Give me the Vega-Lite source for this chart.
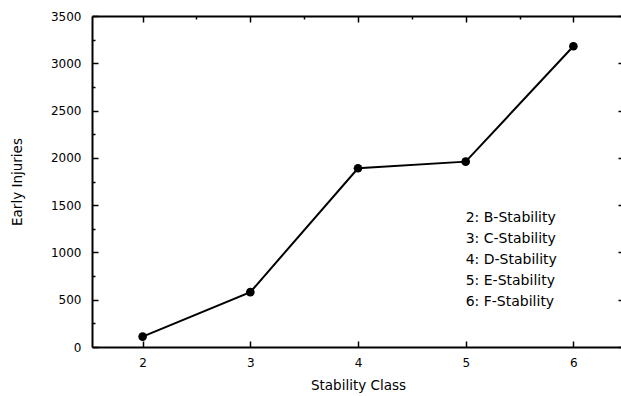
{
  "$schema": "https://vega.github.io/schema/vega-lite/v6.json",
  "width": 532,
  "height": 331,
  "autosize": {"type": "none"},
  "padding": {"left": 92, "top": 16, "right": 0, "bottom": 49},
  "background": "white",
  "config": {
    "view": {"stroke": null},
    "font": "DejaVu Sans",
    "axis": {
      "domainColor": "black",
      "domainWidth": 2,
      "tickColor": "black",
      "tickWidth": 1.5,
      "grid": false,
      "labelFont": "DejaVu Sans",
      "labelFontSize": 12,
      "labelColor": "black",
      "titleFont": "DejaVu Sans",
      "titleFontSize": 13.5,
      "titleFontWeight": "normal",
      "titleColor": "black"
    }
  },
  "data": {
    "values": [
      {"cls": 2, "injuries": 110},
      {"cls": 3, "injuries": 580},
      {"cls": 4, "injuries": 1890},
      {"cls": 5, "injuries": 1960},
      {"cls": 6, "injuries": 3180}
    ]
  },
  "resolve": {"axis": {"x": "independent", "y": "independent"}},
  "layer": [
    {
      "mark": {"type": "line", "color": "black", "strokeWidth": 2},
      "encoding": {
        "x": {
          "field": "cls", "type": "quantitative",
          "scale": {"domain": [1.53, 6.47], "nice": false, "zero": false},
          "axis": {
            "orient": "bottom",
            "title": "Stability Class",
            "values": [2, 2.5, 3, 3.5, 4, 4.5, 5, 5.5, 6],
            "format": "d",
            "tickSize": {"condition": {"test": "datum.value % 1 !== 0", "value": -3}, "value": -6},
            "labelExpr": "datum.value % 1 === 0 ? format(datum.value, 'd') : ''",
            "labelPadding": 16,
            "titlePadding": 10,
            "labelFlush": false,
            "labelOverlap": false
          }
        },
        "y": {
          "field": "injuries", "type": "quantitative",
          "scale": {"domain": [0, 3500], "nice": false},
          "axis": {
            "orient": "left",
            "title": "Early Injuries",
            "values": [0, 250, 500, 750, 1000, 1250, 1500, 1750, 2000, 2250, 2500, 2750, 3000, 3250, 3500],
            "tickSize": {"condition": {"test": "datum.value % 500 !== 0", "value": -3}, "value": -6},
            "labelExpr": "datum.value % 500 === 0 ? datum.label : ''",
            "format": "d",
            "labelPadding": 17,
            "titlePadding": 26,
            "labelFlush": false,
            "labelOverlap": false
          }
        }
      }
    },
    {
      "mark": {"type": "point", "filled": true, "color": "black", "opacity": 1, "size": 75},
      "encoding": {
        "x": {
          "field": "cls", "type": "quantitative",
          "scale": {"domain": [1.53, 6.47], "nice": false, "zero": false},
          "axis": {
            "orient": "top",
            "title": null,
            "values": [2, 2.5, 3, 3.5, 4, 4.5, 5, 5.5, 6],
            "tickSize": {"condition": {"test": "datum.value % 1 !== 0", "value": -3}, "value": -6},
            "labels": false
          }
        },
        "y": {
          "field": "injuries", "type": "quantitative",
          "scale": {"domain": [0, 3500], "nice": false},
          "axis": {
            "orient": "right",
            "title": null,
            "values": [0, 250, 500, 750, 1000, 1250, 1500, 1750, 2000, 2250, 2500, 2750, 3000, 3250, 3500],
            "tickSize": {"condition": {"test": "datum.value % 500 !== 0", "value": -3}, "value": -6},
            "labels": false
          }
        }
      }
    },
    {
      "data": {
        "values": [
          {"tx": 5, "ty": 1360, "label": "2: B-Stability"},
          {"tx": 5, "ty": 1140, "label": "3: C-Stability"},
          {"tx": 5, "ty": 920, "label": "4: D-Stability"},
          {"tx": 5, "ty": 700, "label": "5: E-Stability"},
          {"tx": 5, "ty": 480, "label": "6: F-Stability"}
        ]
      },
      "mark": {"type": "text", "align": "left", "baseline": "middle", "fontSize": 14, "font": "DejaVu Sans", "color": "black"},
      "encoding": {
        "x": {"field": "tx", "type": "quantitative", "scale": {"domain": [1.53, 6.47], "nice": false, "zero": false}, "axis": null},
        "y": {"field": "ty", "type": "quantitative", "scale": {"domain": [0, 3500], "nice": false}, "axis": null},
        "text": {"field": "label"}
      }
    }
  ]
}
